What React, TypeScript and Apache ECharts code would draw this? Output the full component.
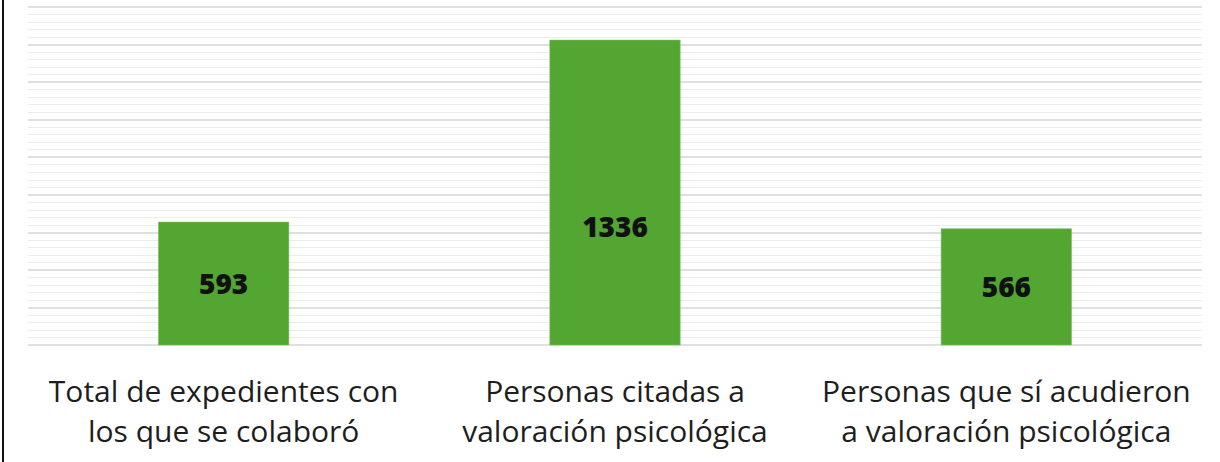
import React, { useEffect, useRef } from "react";
import * as echarts from "echarts";

const categories = [
  "Total de expedientes con\nlos que se colaboró",
  "Personas citadas a\nvaloración psicológica",
  "Personas que sí acudieron\na valoración psicológica",
];
const values = [593, 1336, 566];
const labelOffsets = [[0, -1], [0, 33], [0, -1]];

export default function App() {
  const ref = useRef<HTMLDivElement>(null);
  useEffect(() => {
    document.body.style.margin = "0";
    const chart = echarts.init(ref.current!, null, { renderer: "svg" });
    chart.setOption({
      animation: false,
      backgroundColor: "#ffffff",
      grid: { left: 28, right: 18, top: 7, bottom: 117 },
      xAxis: {
        type: "category",
        data: categories,
        axisLine: { show: false },
        axisTick: { show: false },
        axisLabel: {
          fontFamily: "Open Sans",
          fontSize: 30,
          color: "#1e1e1e",
          lineHeight: 40,
          margin: 25,
          interval: 0,
        },
      },
      yAxis: [
        {
          type: "value",
          min: 90,
          max: 1470,
          show: false,
          splitLine: { show: false },
        },
        {
          type: "value",
          min: 0,
          max: 45,
          interval: 5,
          axisLabel: { show: false },
          axisLine: { show: false },
          axisTick: { show: false },
          splitLine: { show: true, lineStyle: { color: "#d6d6d6", width: 1.6 } },
          minorTick: { show: false, splitNumber: 5 },
          minorSplitLine: { show: true, lineStyle: { color: "#ececec", width: 1.2 } },
        },
      ],
      series: [
        {
          type: "bar",
          yAxisIndex: 0,
          barWidth: 131,
          data: values.map((v, i) => ({
            value: v,
            label: { offset: labelOffsets[i] },
          })),
          itemStyle: { color: "#52a631", borderColor: "#7cc260", borderWidth: 0.6 },
          label: {
            show: true,
            position: "inside",
            fontFamily: "Open Sans",
            fontWeight: 800,
            fontSize: 28,
            color: "#111111",
          },
          z: 5,
        },
      ],
      graphic: [
        {
          type: "rect",
          left: 2,
          top: 0,
          shape: { width: 2, height: 462 },
          style: { fill: "#111111" },
          z: 10,
        },
      ],
    });
    return () => chart.dispose();
  }, []);
  return (
    <div
      ref={ref}
      style={{ position: "absolute", left: 0, top: 0, width: 1220, height: 462 }}
    />
  );
}
